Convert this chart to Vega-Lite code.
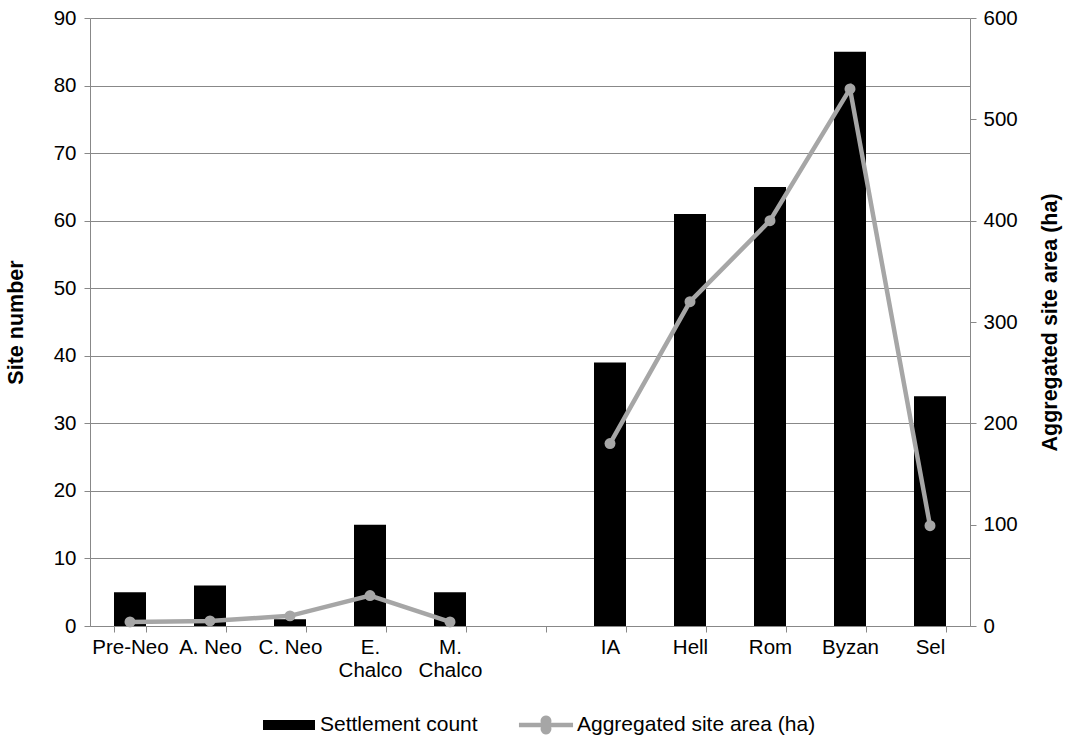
{
  "$schema": "https://vega.github.io/schema/vega-lite/v6.json",
  "width": 880,
  "height": 608,
  "autosize": {"type": "none"},
  "padding": {"left": 90, "top": 18, "right": 95, "bottom": 112},
  "background": "white",
  "config": {
    "font": "Liberation Sans",
    "view": {"stroke": null},
    "axis": {
      "labelFont": "Liberation Sans",
      "labelFontSize": 20.5,
      "labelColor": "#000000",
      "titleFont": "Liberation Sans",
      "titleFontSize": 21.5,
      "titleFontWeight": "bold",
      "titleColor": "#000000",
      "domainColor": "#888888",
      "tickColor": "#888888",
      "gridColor": "#888888",
      "tickSize": 6
    },
    "legend": {
      "labelFont": "Liberation Sans",
      "labelFontSize": 21,
      "labelColor": "#000000",
      "labelLimit": 400
    }
  },
  "data": {
    "values": [
      {"period": "Pre-Neo", "phase": "early", "count": 5, "area": 4},
      {"period": "A. Neo", "phase": "early", "count": 6, "area": 5},
      {"period": "C. Neo", "phase": "early", "count": 1, "area": 10},
      {"period": "E. Chalco", "phase": "early", "count": 15, "area": 30},
      {"period": "M. Chalco", "phase": "early", "count": 5, "area": 4},
      {"period": "IA", "phase": "late", "count": 39, "area": 180},
      {"period": "Hell", "phase": "late", "count": 61, "area": 320},
      {"period": "Rom", "phase": "late", "count": 65, "area": 400},
      {"period": "Byzan", "phase": "late", "count": 85, "area": 530},
      {"period": "Sel", "phase": "late", "count": 34, "area": 99}
    ]
  },
  "encoding": {
    "x": {
      "field": "period",
      "type": "nominal",
      "sort": null,
      "scale": {
        "domain": ["Pre-Neo", "A. Neo", "C. Neo", "E. Chalco", "M. Chalco", " ", "IA", "Hell", "Rom", "Byzan", "Sel"],
        "paddingInner": 0.6,
        "paddingOuter": 0.3
      },
      "axis": {
        "title": null,
        "labelAngle": 0,
        "tickBand": "extent",
        "grid": false,
        "labelPadding": 5,
        "labelLineHeight": 23,
        "labelExpr": "indexof(datum.label, 'Chalco') >= 0 ? split(datum.label, ' ') : datum.label"
      }
    }
  },
  "layer": [
    {
      "mark": {"type": "bar", "color": "#000000"},
      "encoding": {
        "y": {
          "field": "count",
          "type": "quantitative",
          "scale": {"domain": [0, 90], "nice": false},
          "axis": {
            "title": "Site number",
            "values": [0, 10, 20, 30, 40, 50, 60, 70, 80, 90],
            "grid": true,
            "titlePadding": 26,
            "labelPadding": 8
          }
        },
        "color": {
          "datum": "Settlement count",
          "type": "nominal",
          "scale": {
            "domain": ["Settlement count", "Aggregated site area (ha)"],
            "range": ["#000000", "#a6a6a6"]
          },
          "legend": {
            "title": null,
            "orient": "none",
            "legendX": 173,
            "legendY": 681,
            "direction": "horizontal",
            "symbolSize": 2704,
            "columnPadding": 40,
            "labelOffset": 5,
            "encode": {
              "symbols": {
                "update": {
                  "shape": {"signal": "datum.value === 'Settlement count' ? 'M-1,-0.19H1V0.19H-1Z' : 'M-1.04,-0.09H-0.2A0.21,0.21 0 1 1 0.2,-0.09H1.04V0.09H0.2A0.21,0.21 0 1 1 -0.2,0.09H-1.04Z'"},
                  "fill": {"signal": "datum.value === 'Settlement count' ? '#000000' : '#a6a6a6'"},
                  "stroke": {"value": null},
                  "strokeWidth": {"value": 0},
                  "opacity": {"value": 1}
                }
              }
            }
          }
        }
      }
    },
    {
      "mark": {"type": "line", "strokeWidth": 4.5, "point": {"filled": true, "size": 120, "opacity": 1}},
      "encoding": {
        "y": {
          "field": "area",
          "type": "quantitative",
          "scale": {"domain": [0, 600], "nice": false},
          "axis": {
            "title": "Aggregated site area (ha)",
            "orient": "right",
            "values": [0, 100, 200, 300, 400, 500, 600],
            "grid": false,
            "titleAngle": -90,
            "titleBaseline": "bottom",
            "titlePadding": 44,
            "labelPadding": 7
          }
        },
        "detail": {"field": "phase", "type": "nominal"},
        "color": {"datum": "Aggregated site area (ha)", "type": "nominal"}
      }
    }
  ],
  "resolve": {"scale": {"y": "independent"}}
}
